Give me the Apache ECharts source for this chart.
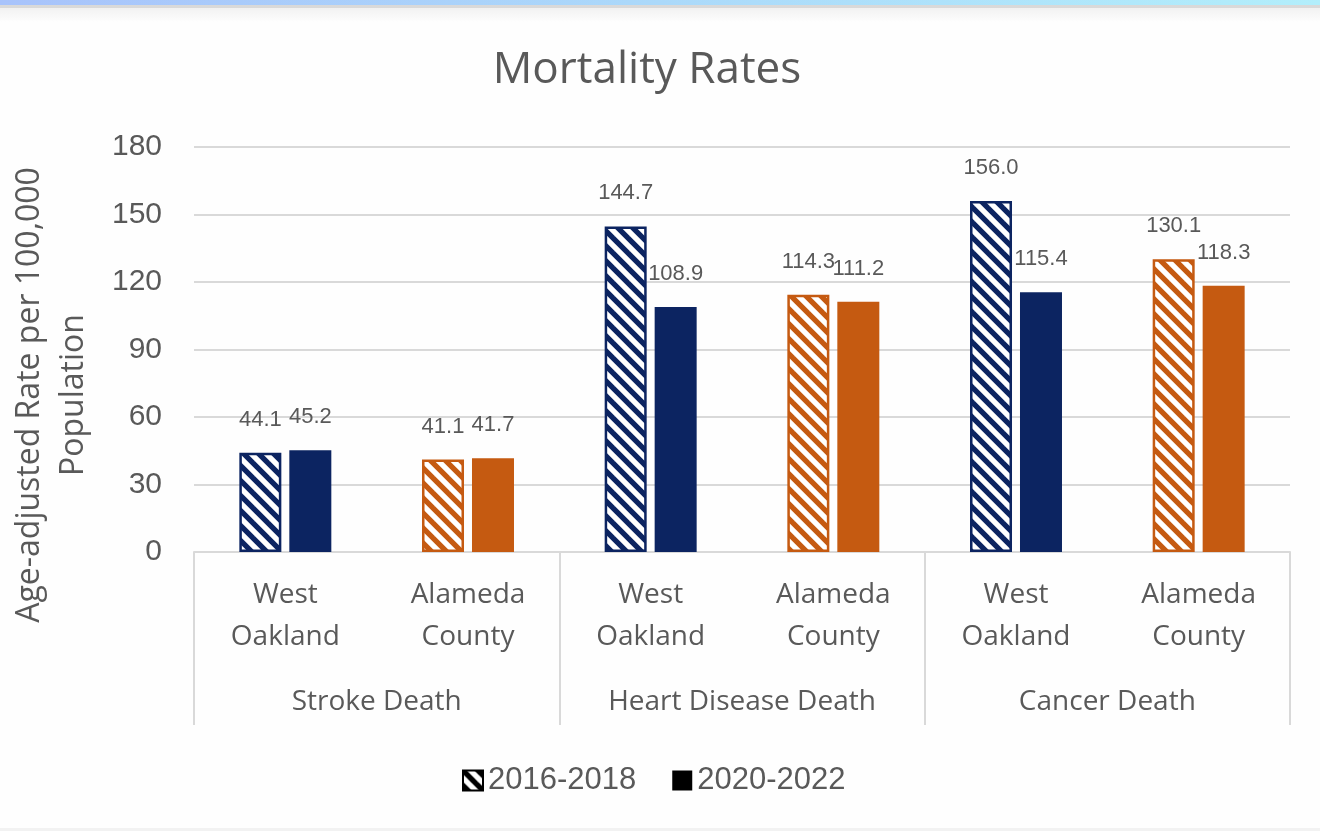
<!DOCTYPE html>
<html><head><meta charset="utf-8">
<script src="https://cdn.jsdelivr.net/npm/echarts@6/dist/echarts.min.js"></script>
<style>
html,body{margin:0;padding:0;background:#fefefe;}
#chart{position:absolute;left:0;top:0;width:1320px;height:831px;}
#topbar{position:absolute;left:0;top:0;width:1320px;height:5px;background:linear-gradient(to right,#a8c3fb,#abd9fa 50%,#b2eefb);z-index:2;}
#topline{position:absolute;left:0;top:5px;width:1320px;height:3px;background:#d9d9d9;z-index:2;}
#shade{position:absolute;left:0;top:8px;width:1320px;height:14px;background:linear-gradient(#f1f1f1,rgba(255,255,255,0));z-index:2;}
#bottom{position:absolute;left:0;top:828px;width:1320px;height:3px;background:#f2f2f2;z-index:2;}
</style></head><body>
<div id="chart"></div>
<div id="topbar"></div><div id="topline"></div><div id="shade"></div><div id="bottom"></div>
<script>
// ---- data ----
const categories = ['West\nOakland','Alameda\nCounty','West\nOakland','Alameda\nCounty','West\nOakland','Alameda\nCounty'];
const groups = ['Stroke Death','Heart Disease Death','Cancer Death'];
const seriesNames = ['2016-2018','2020-2022'];
const values2016 = [44.1, 41.1, 144.7, 114.3, 156.0, 130.1];
const values2020 = [45.2, 41.7, 108.9, 111.2, 115.4, 118.3];
const yTicks = [0, 30, 60, 90, 120, 150, 180];

// ---- styles ----
const NAVY = '#0c2461', ORANGE = '#c55a11', TEXT = '#595959', GRID = '#d9d9d9';
const catColors = [NAVY, ORANGE, NAVY, ORANGE, NAVY, ORANGE];

function hatch(color){
  const s = 15;
  const c = document.createElement('canvas');
  c.width = s; c.height = s;
  const g = c.getContext('2d');
  g.fillStyle = '#ffffff'; g.fillRect(0,0,s,s);
  g.strokeStyle = color; g.lineWidth = 5.3; g.lineCap = 'square';
  for (const k of [-s, 0, s]) {
    g.beginPath(); g.moveTo(k, 0); g.lineTo(k + s, s); g.stroke();
  }
  return {image: c, repeat: 'repeat'};
}

const chart = echarts.init(document.getElementById('chart'), null, {renderer:'canvas'});
const labelCfg = {
  show: true, position: 'top', distance: 22,
  fontFamily: 'Liberation Sans', fontSize: 22, color: TEXT,
  formatter: p => p.value.toFixed(1)
};

chart.setOption({
  backgroundColor: 'transparent',
  animation: false,
  title: {
    text: 'Mortality Rates', left: 642, top: 43, textAlign: 'center',
    textStyle: {fontFamily: 'Open Sans', fontSize: 44, fontWeight: 'normal', color: TEXT}
  },
  legend: {
    data: seriesNames, left: 457, top: 760, itemWidth: 20, itemHeight: 20, itemGap: 36,
    icon: 'rect',
    textStyle: {fontFamily: 'Liberation Sans', fontSize: 31, color: TEXT}
  },
  grid: {left: 194, right: 30, top: 147, bottom: 279, containLabel: false},
  xAxis: [
    {
      type: 'category', data: categories, position: 'bottom',
      axisLine: {show: true, lineStyle: {color: GRID, width: 2}},
      axisTick: {show: false},
      axisLabel: {fontFamily: 'Open Sans', fontSize: 28, lineHeight: 42, color: TEXT, margin: 22, interval: 0}
    },
    {
      type: 'category', data: groups, position: 'bottom',
      axisLine: {show: false},
      axisTick: {show: true, length: 173, lineStyle: {color: GRID, width: 2}},
      axisLabel: {fontFamily: 'Open Sans', fontSize: 28, lineHeight: 42, color: TEXT, margin: 129, interval: 0}
    }
  ],
  yAxis: {
    type: 'value', min: yTicks[0], max: yTicks[yTicks.length-1], interval: yTicks[1]-yTicks[0],
    axisLine: {show: false}, axisTick: {show: false},
    splitLine: {lineStyle: {color: GRID, width: 2}},
    axisLabel: {fontFamily: 'Liberation Sans', fontSize: 30, color: TEXT, margin: 32}
  },
  graphic: [{
    type: 'text', x: 52, y: 395, rotation: Math.PI/2,
    style: {
      text: 'Age-adjusted Rate per 100,000\nPopulation',
      fontFamily: 'Open Sans', fontSize: 32, lineHeight: 44, fill: TEXT,
      align: 'center', verticalAlign: 'middle'
    }
  }],
  series: [
    {
      name: seriesNames[0], type: 'bar', xAxisIndex: 0, barWidth: 42, barGap: '19%',
      itemStyle: {color: hatch('#000000'), borderColor: '#000000', borderWidth: 2.5},
      label: labelCfg,
      data: values2016.map((v, i) => ({value: v, itemStyle: {color: hatch(catColors[i]), borderColor: catColors[i], borderWidth: 2.5}}))
    },
    {
      name: seriesNames[1], type: 'bar', xAxisIndex: 0, barWidth: 42, barGap: '19%',
      itemStyle: {color: '#000000'},
      label: labelCfg,
      data: values2020.map((v, i) => ({value: v, itemStyle: {color: catColors[i]}}))
    }
  ]
});
</script>
</body></html>
